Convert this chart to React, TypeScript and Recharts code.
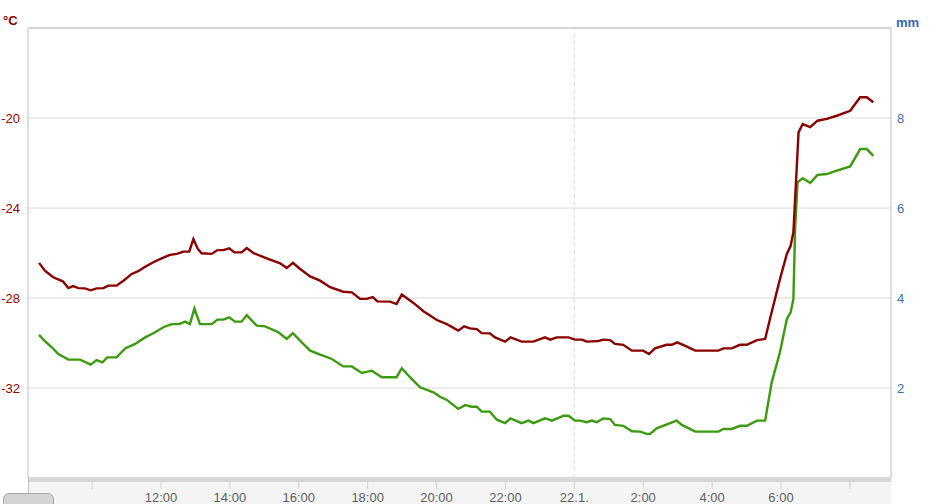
import { LineChart, Line, XAxis, YAxis, CartesianGrid, ReferenceLine } from 'recharts';

// hours counted from 0:00 on the first day (24 = midnight, "22.1.")
const tempHours = [
  8.46, 8.63, 8.87, 9.15, 9.31, 9.45, 9.6, 9.79, 9.96, 10.13, 10.33, 10.47, 10.71, 10.91,
  11.15, 11.34, 11.54, 11.78, 11.97, 12.26, 12.46, 12.65, 12.82, 12.94, 13.07, 13.18, 13.47,
  13.64, 13.81, 13.98, 14.13, 14.34, 14.49, 14.68, 15.07, 15.46, 15.65, 15.83, 16.04, 16.33,
  16.62, 16.91, 17.29, 17.54, 17.78, 17.97, 18.15, 18.28, 18.65, 18.84, 18.99, 19.33, 19.62,
  20.01, 20.3, 20.63, 20.8, 20.97, 21.17, 21.31, 21.55, 21.7, 21.99, 22.15, 22.47, 22.81,
  23.15, 23.3, 23.49, 23.83, 24.02, 24.22, 24.36, 24.7, 24.84, 25.04, 25.18, 25.42, 25.67,
  26.0, 26.17, 26.34, 26.68, 26.83, 26.99, 27.27, 27.51, 28.18, 28.33, 28.57, 28.81, 29.01,
  29.3, 29.54, 29.68, 29.97, 30.17, 30.28, 30.36, 30.44, 30.51, 30.63, 30.85, 31.06, 31.33,
  31.62, 32.01, 32.3, 32.49, 32.68,
];
const tempValues = [
  -26.44, -26.79, -27.08, -27.26, -27.56, -27.47, -27.56, -27.57, -27.66, -27.57, -27.56,
  -27.45, -27.45, -27.23, -26.93, -26.81, -26.61, -26.41, -26.27, -26.08, -26.04, -25.94,
  -25.94, -25.38, -25.82, -26.01, -26.04, -25.87, -25.87, -25.79, -25.97, -25.97, -25.78,
  -26.0, -26.24, -26.46, -26.67, -26.44, -26.71, -27.04, -27.23, -27.52, -27.72, -27.75,
  -28.04, -28.04, -27.96, -28.15, -28.16, -28.27, -27.85, -28.22, -28.59, -28.98, -29.16,
  -29.45, -29.26, -29.35, -29.38, -29.56, -29.57, -29.75, -29.94, -29.75, -29.94, -29.94,
  -29.75, -29.85, -29.75, -29.75, -29.85, -29.85, -29.94, -29.91, -29.85, -29.87, -30.04,
  -30.08, -30.34, -30.34, -30.49, -30.24, -30.08, -30.08, -29.97, -30.16, -30.34, -30.34,
  -30.24, -30.24, -30.08, -30.08, -29.87, -29.82, -28.93, -27.16, -26.04, -25.68, -25.08,
  -22.71, -20.64, -20.27, -20.41, -20.12, -20.04, -19.9, -19.68, -19.08, -19.08, -19.3,
];

const dewHours = [
  8.46, 8.63, 8.83, 9.02, 9.31, 9.65, 9.96, 10.13, 10.3, 10.44, 10.71, 10.96, 11.25, 11.54,
  11.83, 12.07, 12.31, 12.53, 12.7, 12.84, 12.97, 13.13, 13.47, 13.64, 13.81, 13.98, 14.15,
  14.34, 14.49, 14.78, 15.02, 15.41, 15.65, 15.83, 16.04, 16.33, 16.62, 16.96, 17.29, 17.54,
  17.83, 18.12, 18.41, 18.84, 18.99, 19.23, 19.52, 19.91, 20.1, 20.3, 20.63, 20.83, 21.02,
  21.17, 21.31, 21.55, 21.75, 21.99, 22.15, 22.47, 22.67, 22.81, 23.15, 23.35, 23.69, 23.83,
  24.02, 24.17, 24.36, 24.51, 24.65, 24.84, 25.04, 25.18, 25.42, 25.67, 25.91, 26.1, 26.2,
  26.39, 26.97, 27.12, 27.27, 27.51, 28.18, 28.33, 28.57, 28.81, 29.01, 29.3, 29.54, 29.73,
  29.97, 30.17, 30.28, 30.36, 30.41, 30.48, 30.63, 30.85, 31.06, 31.33, 31.62, 32.01, 32.3,
  32.49, 32.68,
];
const dewValues = [
  -29.64, -29.92, -30.19, -30.49, -30.74, -30.74, -30.96, -30.76, -30.86, -30.64, -30.64,
  -30.24, -30.04, -29.75, -29.52, -29.3, -29.16, -29.16, -29.05, -29.16, -28.46, -29.16,
  -29.16, -28.96, -28.96, -28.86, -29.05, -29.05, -28.76, -29.23, -29.26, -29.52, -29.82,
  -29.56, -29.9, -30.34, -30.52, -30.71, -31.04, -31.04, -31.33, -31.23, -31.52, -31.52,
  -31.12, -31.52, -31.97, -32.19, -32.39, -32.53, -32.93, -32.76, -32.83, -32.83, -33.05,
  -33.05, -33.41, -33.56, -33.35, -33.56, -33.45, -33.56, -33.35, -33.45, -33.23, -33.23,
  -33.45, -33.45, -33.52, -33.45, -33.52, -33.35, -33.38, -33.64, -33.68, -33.92, -33.94,
  -34.04, -34.04, -33.79, -33.45, -33.64, -33.75, -33.94, -33.94, -33.82, -33.82, -33.68,
  -33.68, -33.45, -33.45, -31.75, -30.41, -28.93, -28.64, -28.04, -24.93, -22.86, -22.68,
  -22.89, -22.53, -22.49, -22.34, -22.15, -21.38, -21.38, -21.68,
];

const hourTicks = [10, 12, 14, 16, 18, 20, 22, 24, 26, 28, 30, 32];
const hourLabels: Record<number, string> = {
  12: '12:00',
  14: '14:00',
  16: '16:00',
  18: '18:00',
  20: '20:00',
  22: '22:00',
  24: '22.1.',
  26: '2:00',
  28: '4:00',
  30: '6:00',
};
const tempTicks = [-32, -28, -24, -20];
const mmTicks = [2, 4, 6, 8];

const tempData = tempHours.map((h, i) => ({ h, v: tempValues[i] }));
const dewData = dewHours.map((h, i) => ({ h, v: dewValues[i] }));

const FONT = '"Liberation Sans", Arial, sans-serif';

function HourTick(props: any) {
  const { x, payload } = props;
  const label = hourLabels[payload.value];
  return (
    <g>
      <line x1={x} x2={x} y1={482} y2={489} stroke="#d0d0d0" />
      {label && (
        <text x={x} y={502} textAnchor="middle" fill="#606060" fontSize={13} fontFamily={FONT}>
          {label}
        </text>
      )}
    </g>
  );
}

export default function App() {
  return (
    <div style={{ position: 'absolute', left: 0, top: 0, width: 934, height: 504, background: '#fff', fontFamily: FONT }}>
      <div style={{ position: 'absolute', left: 28, top: 482, width: 863, height: 22, background: '#f4f4f4' }} />
      <div style={{ position: 'absolute', left: 28, top: 477, width: 863, height: 5, background: '#d6d6d6' }} />
      <div style={{ position: 'absolute', left: 28, top: 477, width: 1, height: 16, background: '#c0c0c0' }} />
      <div
        style={{
          position: 'absolute',
          left: 3,
          top: 493,
          width: 49,
          height: 16,
          background: '#d4d4d4',
          border: '1px solid #a8a8a8',
          borderRadius: 6,
        }}
      />
      <div style={{ position: 'absolute', left: 3, top: 13, fontSize: 13, fontWeight: 'bold', color: '#8b0000' }}>°C</div>
      <div style={{ position: 'absolute', left: 896, top: 15, fontSize: 13, fontWeight: 'bold', color: '#2f69b3' }}>mm</div>
      <div style={{ position: 'absolute', left: 0, top: 0 }}>
        <LineChart width={934} height={504} data={tempData} margin={{ top: 28, right: 0, bottom: 0, left: 0 }}>
          <CartesianGrid yAxisId="temp" vertical={false} stroke="#d8d8d8" />
          <XAxis
            type="number"
            dataKey="h"
            domain={[8.139, 33.194]}
            ticks={hourTicks}
            allowDataOverflow
            height={26}
            axisLine={false}
            tickLine={false}
            tick={<HourTick />}
            interval={0}
          />
          <YAxis
            yAxisId="temp"
            orientation="left"
            width={28}
            domain={[-36, -16]}
            ticks={tempTicks}
            allowDataOverflow
            axisLine={{ stroke: '#c0c0c0' }}
            tickLine={false}
            tickSize={0}
            tickMargin={8}
            tick={{ fill: '#990000', fontSize: 13, fontFamily: FONT }}
          />
          <YAxis
            yAxisId="mm"
            orientation="right"
            width={43}
            domain={[0, 10]}
            ticks={mmTicks}
            allowDataOverflow
            axisLine={{ stroke: '#c0c0c0' }}
            tickLine={false}
            tickSize={0}
            tickMargin={6}
            tick={{ fill: '#3a72b8', fontSize: 13, fontFamily: FONT, textAnchor: 'start' }}
          />
          <ReferenceLine yAxisId="temp" y={-16} stroke="#c0c0c0" />
          <ReferenceLine yAxisId="temp" x={24} stroke="#d8d8d8" strokeDasharray="4 3" />
          <Line
            yAxisId="temp"
            data={dewData}
            dataKey="v"
            type="linear"
            stroke="#3c9a0e"
            strokeWidth={2.4}
            dot={false}
            isAnimationActive={false}
          />
          <Line
            yAxisId="temp"
            data={tempData}
            dataKey="v"
            type="linear"
            stroke="#8b0000"
            strokeWidth={2.4}
            dot={false}
            isAnimationActive={false}
          />
        </LineChart>
      </div>
    </div>
  );
}
